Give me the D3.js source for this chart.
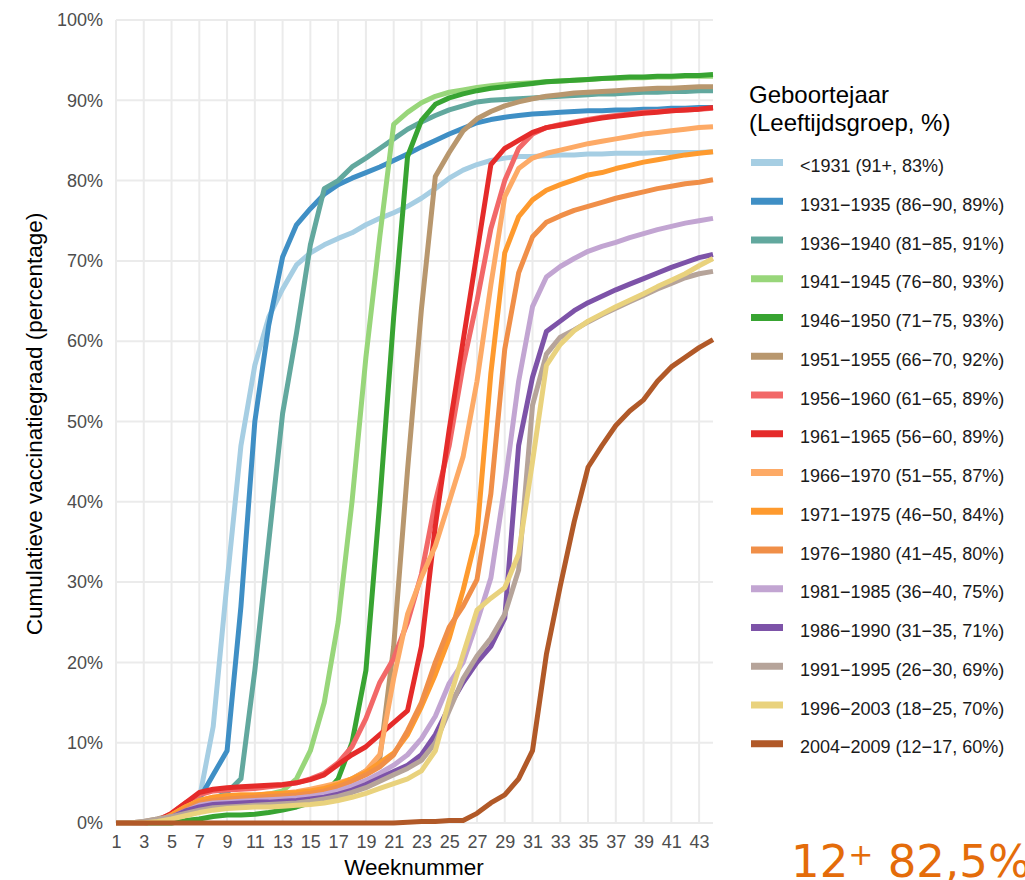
<!DOCTYPE html>
<meta charset="utf-8">

<!-- Load d3.js -->
<script src="https://d3js.org/d3.v7.min.js"></script>

<style>
  body { margin: 0; background: #fff; }
  text { font-family: "Liberation Sans", Arial, sans-serif; }
</style>

<svg id="my_dataviz" width="1025" height="880"></svg>

<script>

// weeks (x categories)
var weeks = [1,2,3,4,5,6,7,8,9,10,11,12,13,14,15,16,17,18,19,20,21,22,
             23,24,25,26,27,28,29,30,31,32,33,34,35,36,37,38,39,40,41,42,43,44];

// legend labels, birth year groups
var groups = [
  "<1931 (91+, 83%)",
  "1931\u22121935 (86\u221290, 89%)",
  "1936\u22121940 (81\u221285, 91%)",
  "1941\u22121945 (76\u221280, 93%)",
  "1946\u22121950 (71\u221275, 93%)",
  "1951\u22121955 (66\u221270, 92%)",
  "1956\u22121960 (61\u221265, 89%)",
  "1961\u22121965 (56\u221260, 89%)",
  "1966\u22121970 (51\u221255, 87%)",
  "1971\u22121975 (46\u221250, 84%)",
  "1976\u22121980 (41\u221245, 80%)",
  "1981\u22121985 (36\u221240, 75%)",
  "1986\u22121990 (31\u221235, 71%)",
  "1991\u22121995 (26\u221230, 69%)",
  "1996\u22122003 (18\u221225, 70%)",
  "2004\u22122009 (12\u221217, 60%)"
];

var colors = ["#a6cee3","#3f8fc5","#62a89e","#98d67a","#38a432","#b8976e","#f26868","#e52b2a",
              "#fdaa66","#fe9a2e","#f08f48","#c2a5d2","#7d53a8","#b6a49a","#e9d27d","#b15928"];

// cumulative vaccination % per week (1..44), one array per group
var v1931 = [0,0,0,0.3,0.8,1.5,3,12,30,47,57,63,66.5,69.5,71,72,72.8,73.5,74.5,75.3,76,76.8,77.8,79,80.3,81.3,82,82.5,82.8,83,83,83.1,83.2,83.2,83.3,83.3,83.4,83.4,83.4,83.5,83.5,83.5,83.5,83.6];
var v1935 = [0,0,0,0.3,1,2,3,6,9,27,50,62,70.5,74.5,76.5,78.3,79.5,80.3,81,81.7,82.5,83.3,84.2,85,85.8,86.5,87.2,87.6,87.9,88.1,88.3,88.4,88.5,88.6,88.7,88.7,88.8,88.8,88.9,88.9,89,89,89.1,89.1];
var v1940 = [0,0,0,0.2,0.8,1.5,2.5,3,3.8,5.5,19,35,51,61,72,79,80,81.7,82.8,84,85.2,86.4,87.3,88.1,88.8,89.3,89.8,90,90.1,90.2,90.3,90.4,90.5,90.6,90.7,90.8,90.8,90.9,91,91,91.1,91.1,91.2,91.2];
var v1945 = [0,0,0,0.2,0.5,1,2,2.8,3,3.2,3.4,3.6,4,5.5,9,15,25,40,58,73,87,88.5,89.7,90.5,91,91.3,91.6,91.8,92,92.1,92.2,92.3,92.4,92.5,92.6,92.7,92.7,92.8,92.8,92.9,92.9,93,93,93];
var v1950 = [0,0,0,0,0,0.3,0.5,0.8,1,1,1.1,1.3,1.6,2,2.5,3.5,5.5,10,19,40,63,83,87.5,89.5,90.3,90.8,91.2,91.5,91.7,91.9,92.1,92.3,92.4,92.5,92.6,92.7,92.8,92.9,92.9,93,93,93.1,93.1,93.2];
var v1955 = [0,0,0.2,0.5,1,1.8,2.5,2.8,3,3,3.1,3.2,3.3,3.5,3.8,4.2,4.8,5.5,6.5,8,22,44,64,80.5,83.5,86.2,87.7,88.6,89.3,89.8,90.2,90.5,90.7,90.9,91,91.1,91.2,91.3,91.4,91.5,91.5,91.6,91.7,91.7];
var v1960 = [0,0,0,0.3,1.2,2.5,3.5,4,4.1,4.2,4.3,4.5,4.7,5,5.5,6.2,7.5,9.5,13,17.5,20.5,25,31,40,47,57,65,74,80,84,85.8,86.6,87,87.3,87.6,87.9,88.1,88.3,88.5,88.6,88.7,88.8,88.9,89];
var v1965 = [0,0,0,0.3,1.2,2.5,3.8,4.2,4.4,4.5,4.6,4.7,4.8,5,5.4,6,7.3,8.5,9.5,11,12.5,14,22,37,49,60,71,82,84,85,86,86.6,86.9,87.2,87.5,87.8,88,88.2,88.4,88.5,88.7,88.8,88.9,89.1];
var v1970 = [0,0,0,0.2,1,2,2.8,3.2,3.4,3.5,3.5,3.6,3.7,3.9,4.2,4.6,5,5.5,6.5,8.5,18,26,30.6,34.5,40,45.6,55,67,78,81.5,82.8,83.4,83.8,84.2,84.6,84.9,85.2,85.5,85.8,86,86.2,86.4,86.6,86.7];
var v1975 = [0,0,0,0.2,1,2,2.8,3.2,3.4,3.5,3.5,3.6,3.7,3.8,4,4.3,4.8,5.5,6.3,7.5,8.7,11,14.5,18.5,23,29,36,56,71,75.5,77.6,78.8,79.5,80.1,80.7,81,81.5,81.9,82.3,82.6,82.9,83.2,83.4,83.6];
var v1980 = [0,0,0,0.2,0.8,1.7,2.5,2.8,3,3.1,3.2,3.3,3.4,3.5,3.7,4,4.5,5.2,6,7,8.5,11.5,15,20,24.4,27,30.3,41,59,68.5,73,74.8,75.6,76.3,76.8,77.3,77.8,78.2,78.6,79,79.3,79.6,79.8,80.1];
var v1985 = [0,0,0,0.2,0.7,1.5,2.2,2.5,2.6,2.7,2.8,2.9,3,3.1,3.3,3.6,4,4.6,5.3,6.2,7.2,8.5,10.5,13.3,17.4,20,25,30.5,42,55,64.3,68,69.3,70.3,71.2,71.8,72.3,72.9,73.4,73.9,74.3,74.7,75,75.3];
var v1990 = [0,0,0,0.2,0.7,1.5,2,2.3,2.4,2.5,2.6,2.6,2.7,2.8,3,3.2,3.6,4.1,4.8,5.6,6.4,7.2,8.5,11,14.5,17.5,20,22,25.5,47,55.5,61.2,62.5,63.8,64.8,65.6,66.4,67.1,67.8,68.5,69.2,69.8,70.4,70.8];
var v1995 = [0,0,0.2,0.5,0.8,1.2,1.6,1.9,2,2.1,2.2,2.3,2.4,2.5,2.7,3,3.3,3.8,4.4,5.2,6,6.8,7.8,10,14,18,20.8,23,26,31.5,52,58.4,60.5,61.4,62.4,63.3,64.1,64.9,65.7,66.5,67.2,67.9,68.4,68.7];
var v2003 = [0,0,0,0.2,0.5,0.9,1.3,1.6,1.8,1.9,2,2,2.1,2.2,2.3,2.5,2.8,3.2,3.7,4.3,4.9,5.5,6.5,9,15.3,21,26.5,28,29.3,33.5,45,57,59.6,61.3,62.5,63.4,64.3,65.1,65.9,66.8,67.6,68.4,69.4,70.3];
var v2009 = [0,0,0,0,0,0,0,0,0,0,0,0,0,0,0,0,0,0,0,0,0,0.1,0.2,0.2,0.3,0.3,1.2,2.5,3.5,5.5,9,21,29.5,37.5,44.3,47,49.5,51.3,52.7,55,56.8,58,59.2,60.2];

var series = [v1931,v1935,v1940,v1945,v1950,v1955,v1960,v1965,v1970,v1975,v1980,v1985,v1990,v1995,v2003,v2009];

var xTicks = [1,3,5,7,9,11,13,15,17,19,21,23,25,27,29,31,33,35,37,39,41,43];
var yTicks = [0,10,20,30,40,50,60,70,80,90,100];

// The svg
var svg = d3.select("svg");

// scales
var x = d3.scaleLinear().domain([1, 44]).range([116, 713]);
var y = d3.scaleLinear().domain([0, 100]).range([823, 20]);

// grid
var grid = svg.append("g");
grid.selectAll("hline")
  .data(yTicks)
  .enter().append("line")
    .attr("x1", x(1)).attr("x2", x(44))
    .attr("y1", function(d){ return y(d) }).attr("y2", function(d){ return y(d) })
    .style("stroke", "#ebebeb").style("stroke-width", 2);
grid.selectAll("vline")
  .data(xTicks)
  .enter().append("line")
    .attr("x1", function(d){ return x(d) }).attr("x2", function(d){ return x(d) })
    .attr("y1", y(0)).attr("y2", y(100))
    .style("stroke", "#ebebeb").style("stroke-width", 2);

// axes (labels only)
var yAxis = svg.append("g")
  .attr("transform", "translate(" + x(1) + ",0)")
  .call(d3.axisLeft(y).tickValues(yTicks).tickFormat(function(d){ return d + "%" }).tickSize(0).tickPadding(13));
var xAxis = svg.append("g")
  .attr("transform", "translate(0," + y(0) + ")")
  .call(d3.axisBottom(x).tickValues(xTicks).tickSize(0).tickPadding(12));
[yAxis, xAxis].forEach(function(a){
  a.select(".domain").remove();
  a.selectAll("text")
    .style("font-family", "'Liberation Sans', Arial, sans-serif")
    .style("font-size", "18px")
    .style("fill", "#4d4d4d");
});

// axis titles
svg.append("text")
  .attr("x", 414).attr("y", 875)
  .attr("text-anchor", "middle")
  .style("font-size", "22.5px").style("fill", "#000")
  .text("Weeknummer");
svg.append("text")
  .attr("transform", "translate(42," + 424 + ") rotate(-90)")
  .attr("text-anchor", "middle")
  .style("font-size", "22.5px").style("fill", "#000")
  .text("Cumulatieve vaccinatiegraad (percentage)");

// lines
var line = d3.line()
  .x(function(d, i){ return x(weeks[i]) })
  .y(function(d){ return y(d) });

svg.append("g")
  .selectAll("path")
  .data(series)
  .enter().append("path")
    .attr("d", function(d){ return line(d) })
    .style("fill", "none")
    .style("stroke", function(d, i){ return colors[i] })
    .style("stroke-width", 5)
    .style("stroke-linejoin", "round");

// legend
svg.append("text").attr("x", 749).attr("y", 103)
  .style("font-size", "24px").style("fill", "#000").text("Geboortejaar");
svg.append("text").attr("x", 749).attr("y", 131)
  .style("font-size", "24px").style("fill", "#000").text("(Leeftijdsgroep, %)");

var legend = svg.append("g")
  .selectAll("g")
  .data(groups)
  .enter().append("g")
    .attr("transform", function(d, i){ return "translate(0," + (162.5 + i * 38.75) + ")" });
legend.append("line")
  .attr("x1", 751).attr("x2", 783)
  .attr("y1", 0).attr("y2", 0)
  .style("stroke", function(d, i){ return colors[i] })
  .style("stroke-width", 7);
legend.append("text")
  .attr("x", 800).attr("y", 9.5)
  .style("font-size", "18px").style("fill", "#1a1a1a")
  .text(function(d){ return d });

// slide annotation (runs off the right edge, as in the slide)
var note = svg.append("text")
  .attr("x", 791).attr("y", 877)
  .style("font-family", "'DejaVu Sans', Verdana, sans-serif")
  .style("font-size", "45px").style("fill", "#e46c0a");
note.append("tspan").text("12");
note.append("tspan").attr("dy", -12).style("font-size", "30px").text("+");
note.append("tspan").attr("dy", 12).text(" 82,5%");

</script>
